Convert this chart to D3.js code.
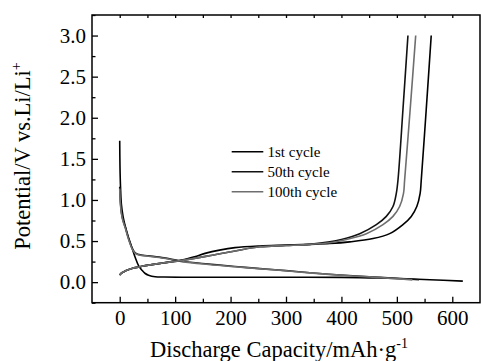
<!DOCTYPE html>
<html><head><meta charset="utf-8">
<script src="https://cdn.jsdelivr.net/npm/d3@7"></script>
<style>body{margin:0;background:#fff}svg{display:block}text{font-family:"Liberation Serif","Times New Roman",serif !important;fill:#000}</style>
</head><body>
<svg id="c" width="481" height="361"></svg>
<script>
// ---- data ----
const cycleNames = ["1st cycle", "50th cycle", "100th cycle"];
const xTicks = [0, 100, 200, 300, 400, 500, 600];
const yTicks = [0.0, 0.5, 1.0, 1.5, 2.0, 2.5, 3.0];

const discharge1Cap = [0, 0.5, 1.5, 3, 6, 10, 16, 22, 28, 34, 40, 46, 52, 64, 80, 120, 200, 300, 400, 450, 500, 560, 619];
const discharge1V   = [1.72, 1.4, 1.15, 0.95, 0.8, 0.68, 0.54, 0.42, 0.3, 0.2, 0.146, 0.105, 0.085, 0.066, 0.062, 0.06, 0.06, 0.06, 0.058, 0.052, 0.045, 0.03, 0.012];

const discharge50Cap = [0, 1, 3, 6, 10, 16, 22, 28, 35, 52, 80, 112, 160, 208, 253, 300, 343, 397, 450, 505, 540];
const discharge50V   = [1.16, 1.0, 0.85, 0.75, 0.67, 0.53, 0.42, 0.355, 0.335, 0.32, 0.295, 0.255, 0.22, 0.19, 0.165, 0.14, 0.115, 0.087, 0.066, 0.045, 0.03];

const discharge100Cap = [0, 1, 3, 6, 10, 16, 22, 28, 35, 52, 80, 112, 160, 208, 253, 300, 343, 397, 450, 505, 528];
const discharge100V   = [1.14, 0.98, 0.84, 0.74, 0.66, 0.52, 0.41, 0.35, 0.33, 0.315, 0.29, 0.25, 0.215, 0.187, 0.163, 0.138, 0.113, 0.085, 0.064, 0.04, 0.028];

const charge1Cap = [0, 3, 7, 13, 22, 35, 52, 80, 112, 135, 154, 180, 208, 253, 300, 343, 379, 415, 457, 487, 511, 526, 536, 542, 544, 553, 562];
const charge1V   = [0.085, 0.11, 0.125, 0.145, 0.167, 0.185, 0.207, 0.235, 0.27, 0.31, 0.35, 0.39, 0.42, 0.44, 0.45, 0.46, 0.47, 0.49, 0.53, 0.59, 0.70, 0.80, 0.92, 1.08, 1.24, 2.1, 3.0];

const charge50Cap = [0, 3, 7, 13, 22, 35, 52, 80, 112, 160, 208, 253, 300, 343, 379, 400, 433, 463, 481, 493, 499, 502, 511, 520];
const charge50V   = [0.085, 0.11, 0.125, 0.145, 0.167, 0.185, 0.207, 0.235, 0.265, 0.32, 0.38, 0.43, 0.445, 0.46, 0.49, 0.52, 0.59, 0.70, 0.80, 0.92, 1.08, 1.24, 2.1, 3.0];

const charge100Cap = [0, 3, 7, 13, 22, 35, 52, 80, 112, 160, 208, 253, 300, 343, 379, 409, 445, 475, 493, 505, 512, 514, 524, 534];
const charge100V   = [0.085, 0.11, 0.125, 0.145, 0.167, 0.185, 0.207, 0.235, 0.265, 0.32, 0.38, 0.43, 0.445, 0.46, 0.48, 0.52, 0.59, 0.70, 0.80, 0.92, 1.08, 1.24, 2.1, 3.0];

// ---- styles ----
const colors = ["#000000", "#111111", "#6e6e6e"];

// ---- chart ----
const svg = d3.select("#c");
const L = 92, R = 480, T = 15, B = 302.7;
const x = d3.scaleLinear().domain([-50, 650]).range([L, R]);
const y = d3.scaleLinear().domain([-0.25, 3.25]).range([B, T]);

const zip = (a, b) => a.map((v, i) => [v, b[i]]);
const line = d3.line().x(d => x(d[0])).y(d => y(d[1])).curve(d3.curveCatmullRom.alpha(0.5));

const series = [
  {c: 0, d: zip(discharge1Cap, discharge1V)},
  {c: 1, d: zip(discharge50Cap, discharge50V)},
  {c: 2, d: zip(discharge100Cap, discharge100V)},
  {c: 0, d: zip(charge1Cap, charge1V)},
  {c: 1, d: zip(charge50Cap, charge50V)},
  {c: 2, d: zip(charge100Cap, charge100V)}
];
svg.append("g").selectAll("path").data(series).join("path")
  .attr("d", s => line(s.d)).attr("fill", "none")
  .attr("stroke", s => colors[s.c]).attr("stroke-width", 1.6);

// axes
const xAxis = d3.axisBottom(x).tickValues(xTicks).tickSizeInner(-6).tickSizeOuter(0).tickPadding(7).tickFormat(d3.format("d"));
svg.append("g").attr("transform", `translate(0,${B})`).call(xAxis);
svg.append("g").attr("transform", `translate(0,${B})`)
  .call(d3.axisBottom(x).tickValues(d3.range(50, 650, 100)).tickSizeInner(-4).tickSizeOuter(0).tickFormat(""));

const yAxis = d3.axisLeft(y).tickValues(yTicks).tickSizeInner(-6).tickSizeOuter(0).tickPadding(6).tickFormat(d3.format(".1f"));
svg.append("g").attr("transform", `translate(${L},0)`).call(yAxis);
svg.append("g").attr("transform", `translate(${L},0)`)
  .call(d3.axisLeft(y).tickValues(d3.range(-0.25, 3.3, 0.5)).tickSizeInner(-3.5).tickSizeOuter(0).tickFormat(""));

// top small ticks
svg.append("g").attr("transform", `translate(0,${T})`)
  .call(d3.axisTop(x).tickValues(d3.range(0, 650, 50)).tickSizeInner(-3).tickSizeOuter(0).tickFormat(""));

svg.selectAll("g").attr("font-family", null).attr("font-size", null);
svg.selectAll(".tick text").style("font-size", "21px").style("font-family", "'Liberation Serif', serif");
svg.selectAll(".domain").remove();
svg.selectAll(".tick line").attr("stroke", "#000").attr("stroke-width", 1.3);

svg.append("rect").attr("x", L).attr("y", T).attr("width", R - L).attr("height", B - T)
  .attr("fill", "none").attr("stroke", "#000").attr("stroke-width", 1.5);

// legend
const lg = svg.append("g");
cycleNames.forEach((n, i) => {
  const yy = 151.7 + i * 20;
  lg.append("line").attr("x1", 231.7).attr("x2", 263.3).attr("y1", yy).attr("y2", yy)
    .attr("stroke", colors[i]).attr("stroke-width", 1.6);
  lg.append("text").attr("x", 267.5).attr("y", yy + 5).style("font-size", "15px").text(n);
});

// axis titles
const xt = svg.append("text").attr("x", 279).attr("y", 356.5).attr("text-anchor", "middle").style("font-size", "22.5px");
xt.append("tspan").text("Discharge Capacity/mAh·g");
xt.append("tspan").attr("dy", -9).style("font-size", "14px").text("-1");

const yt = svg.append("text").attr("transform", "translate(30,156) rotate(-90)").attr("text-anchor", "middle").style("font-size", "22.5px");
yt.append("tspan").text("Potential/V vs.Li/Li");
yt.append("tspan").attr("dy", -9).style("font-size", "14px").text("+");
</script>
</body></html>
